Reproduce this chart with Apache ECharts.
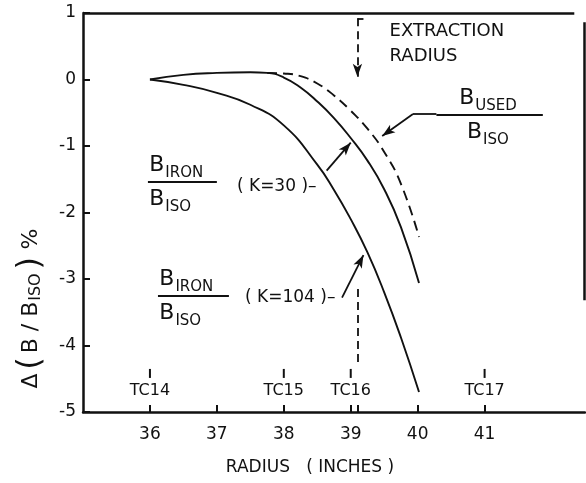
<!DOCTYPE html>
<html>
<head>
<meta charset="utf-8">
<script src="https://cdn.jsdelivr.net/npm/echarts@6/dist/echarts.min.js"></script>
<style>
html, body { margin: 0; padding: 0; background: #fff; }
#main { width: 586px; height: 483px; }
</style>
</head>
<body>
<div id="main"></div>
<script>
// radius (inches) -> delta(B/Biso) %
const radiusK104 = [36.0, 36.5, 37.0, 37.5, 38.0, 38.5, 38.75, 39.0, 39.25, 39.5, 39.75, 40.02];
const deltaK104 = [0.00, -0.08, -0.20, -0.38, -0.69, -1.28, -1.66, -2.10, -2.60, -3.20, -3.88, -4.70];

const radiusK30 = [36.0, 36.5, 37.0, 37.5, 37.75, 38.0, 38.25, 38.5, 38.75, 39.0, 39.25, 39.5, 39.75, 40.02];
const deltaK30 = [0.00, 0.07, 0.10, 0.11, 0.10, 0.03, -0.12, -0.33, -0.58, -0.88, -1.22, -1.65, -2.22, -3.06];

const radiusUsed = [37.75, 38.0, 38.25, 38.5, 38.75, 39.0, 39.25, 39.5, 39.75, 40.02];
const deltaUsed = [0.10, 0.09, 0.05, -0.06, -0.24, -0.47, -0.74, -1.09, -1.57, -2.37];

// trim coil positions
const tcRadius = [36, 38, 39, 41];
const tcNames = ['TC14', 'TC15', 'TC16', 'TC17'];

const extractionRadius = 39.1;
const xTicks = [36, 37, 38, 39, 39.1, 40, 41];
const xLabels = [36, 37, 38, 39, 40, 41];

const ink = '#111';
const font = 'DejaVu Sans';

function pairs(xs, ys) {
  return xs.map((x, i) => [x, ys[i]]);
}

// little helper for a marker segment in data coords
function seg(a, b, style, arrow) {
  const start = { coord: a, lineStyle: style };
  const end = { coord: b };
  if (arrow) {
    end.symbol = 'arrow';
    end.symbolSize = [7, 13];
  }
  return [start, end];
}

const solid = { type: 'solid', width: 1.8, color: ink };
const dashed = { type: [8, 5], width: 1.8, color: ink };
const frame = { type: 'solid', width: 2.5, color: ink };

const fracRich = {
  b: { fontSize: 22, fontFamily: font, color: ink, lineHeight: 34 },
  s: { fontSize: 15, fontFamily: font, color: ink, lineHeight: 26, verticalAlign: 'bottom', padding: [0, 0, 2, 1] }
};

function textPoint(coord, text, align, size) {
  return {
    coord: coord,
    symbolSize: 1,
    itemStyle: { color: 'rgba(0,0,0,0)' },
    label: {
      show: true, position: 'inside', formatter: text, align: align, verticalAlign: 'middle',
      color: ink, fontFamily: font, fontSize: size || 16, lineHeight: 25, rich: fracRich
    }
  };
}

const chart = echarts.init(document.getElementById('main'));

const option = {
  animation: false,
  textStyle: { fontFamily: font, color: ink },
  grid: { left: 83, right: 1, top: 13, bottom: 71, containLabel: false },
  xAxis: {
    type: 'value', min: 35, max: 42.5,
    name: 'RADIUS   ( INCHES )', nameLocation: 'middle', nameGap: 47,
    nameTextStyle: { fontSize: 17, color: ink, fontFamily: font, padding: [0, 48, 0, 0] },
    axisLine: { onZero: false, lineStyle: { color: ink, width: 2.5 } },
    axisTick: { inside: true, length: 7, lineStyle: { color: ink, width: 2 }, customValues: xTicks },
    axisLabel: { fontSize: 17, color: ink, margin: 14, customValues: xLabels },
    splitLine: { show: false }
  },
  yAxis: {
    type: 'value', min: -5, max: 1, interval: 1,
    name: '{d|Δ} {p|(} {n|B / B}{s|ISO} {p|)}  {n|%}', nameLocation: 'middle', nameRotate: 90, nameGap: 36,
    nameTextStyle: {
      padding: [0, 192, 0, 0],
      rich: {
        d: { fontSize: 22, fontFamily: font, color: ink },
        p: { fontSize: 32, fontFamily: font, color: ink },
        n: { fontSize: 22, fontFamily: font, color: ink },
        s: { fontSize: 16, fontFamily: font, color: ink, verticalAlign: 'bottom', padding: [0, 0, 3, 1] }
      }
    },
    axisLine: { show: true, onZero: false, lineStyle: { color: ink, width: 2.5 } },
    axisTick: { show: true, inside: true, length: 7, lineStyle: { color: ink, width: 2 } },
    axisLabel: { fontSize: 17, color: ink, margin: 7 },
    splitLine: { show: false }
  },
  series: [
    {
      name: 'Biron/Biso (K=104)', type: 'line', data: pairs(radiusK104, deltaK104),
      smooth: 0.5, showSymbol: false, clip: false,
      lineStyle: { color: ink, width: 1.9 },
      markLine: {
        silent: true, symbol: ['none', 'none'], label: { show: false }, lineStyle: solid,
        data: [
          // frame: top edge and partial right edge
          seg([35, 1], [42.34, 1], frame),
          seg([42.49, 0.86], [42.49, -3.32], frame),
          // fraction bars
          seg([35.97, -1.54], [37.0, -1.54], solid),
          seg([36.12, -3.25], [37.18, -3.25], solid),
          seg([40.28, -0.53], [41.87, -0.53], solid),
          // pointer arrows
          seg([38.64, -1.37], [39.0, -0.95], solid, true),
          seg([38.87, -3.28], [39.19, -2.64], solid, true),
          seg([40.28, -0.52], [39.93, -0.52], solid),
          seg([39.93, -0.52], [39.47, -0.85], solid, true),
          // extraction radius
          seg([39.19, 0.92], [extractionRadius, 0.92], solid),
          seg([extractionRadius, 0.92], [extractionRadius, 0.04], dashed, true),
          seg([extractionRadius, -3.15], [extractionRadius, -4.32], dashed)
        ]
      },
      markPoint: {
        silent: true,
        data: [
          textPoint([35.99, -1.56], '{b|B}{s|IRON}\n{b|B}{s|ISO}', 'left'),
          textPoint([37.3, -1.62], '( K=30 )–', 'left', 17),
          textPoint([36.14, -3.27], '{b|B}{s|IRON}\n{b|B}{s|ISO}', 'left'),
          textPoint([37.42, -3.28], '( K=104 )–', 'left', 17),
          textPoint([41.05, -0.55], '{b|B}{s|USED}\n{b|B}{s|ISO}', 'center'),
          textPoint([39.58, 0.53], 'EXTRACTION\nRADIUS', 'left', 18)
        ]
      }
    },
    {
      name: 'Biron/Biso (K=30)', type: 'line', data: pairs(radiusK30, deltaK30),
      smooth: 0.5, showSymbol: false, clip: false,
      lineStyle: { color: ink, width: 1.9 }
    },
    {
      name: 'Bused/Biso', type: 'line', data: pairs(radiusUsed, deltaUsed),
      smooth: 0.5, showSymbol: false, clip: false,
      lineStyle: { color: ink, width: 1.9, type: [10, 6] }
    },
    {
      name: 'trim coils', type: 'scatter', data: tcRadius.map(r => [r, -4.42]),
      symbol: 'rect', symbolSize: [2, 9], itemStyle: { color: ink, opacity: 1 },
      label: {
        show: true, position: 'bottom', distance: 5, fontSize: 16, color: ink, fontFamily: font,
        formatter: p => tcNames[p.dataIndex]
      }
    }
  ]
};

chart.setOption(option);
window.addEventListener('resize', chart.resize);
</script>
</body>
</html>
